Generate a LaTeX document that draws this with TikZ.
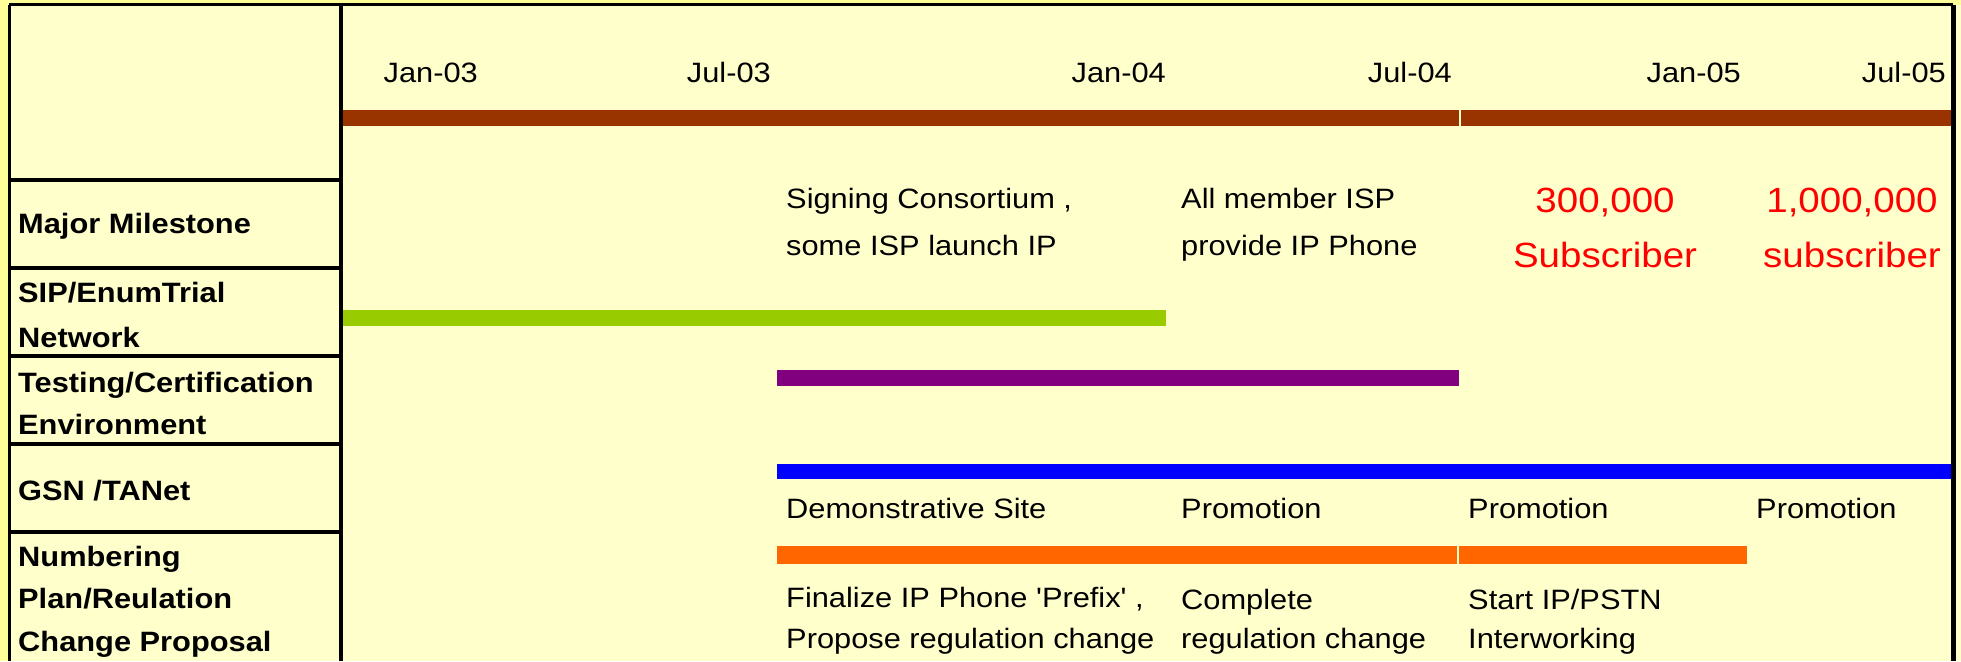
\documentclass[tikz,border=0pt]{standalone}
\usepackage{fontspec}
\setmainfont{Liberation Sans}[FakeStretch=1.1]
\newfontfamily\arial{Liberation Sans}[FakeStretch=1.1]
\definecolor{innerbg}{HTML}{FFFFCC}
\definecolor{outerbg}{HTML}{FFFF99}
\definecolor{cbrown}{HTML}{993300}
\definecolor{cgreen}{HTML}{99CC00}
\definecolor{cpurple}{HTML}{800080}
\definecolor{cblue}{HTML}{0000FF}
\definecolor{corange}{HTML}{FF6600}
\begin{document}
\begin{tikzpicture}[x=1pt,y=-1pt,
  lbl/.style={anchor=base west, inner sep=0pt, font=\arial\bfseries\fontsize{28}{34}\selectfont},
  txt/.style={anchor=base west, inner sep=0pt, font=\arial\fontsize{28}{34}\selectfont},
  datelbl/.style={anchor=base east, inner sep=0pt, font=\arial\fontsize{28}{34}\selectfont},
  bigred/.style={anchor=base, inner sep=0pt, text=red, font=\arial\fontsize{35}{42}\selectfont}]
\useasboundingbox (0,0) rectangle (1961,661);
\fill[outerbg] (0,0) rectangle (1961,661);
\fill[innerbg] (9,5) rectangle (1961,661);
% bars
\fill[cbrown] (341,110) rectangle (1459,126);
\fill[cbrown] (1461,110) rectangle (1953,126);
\fill[cgreen] (341,310) rectangle (1166,326);
\fill[cpurple] (777,370) rectangle (1459,386);
\fill[cblue] (777,464) rectangle (1953,479);
\fill[corange] (777,546) rectangle (1457,564);
\fill[corange] (1459,546) rectangle (1747,564);
% borders
\draw[line width=3pt] (9,5) -- (1953,5);
\draw[line width=3pt] (9,5) -- (9,661);
\draw[line width=5pt] (1953,5) -- (1953,661);
\draw[line width=4.5pt] (341,5) -- (341,661);
\foreach \yy in {180,268,356,444,532} \draw[line width=4pt] (9,\yy) -- (341,\yy);
% dates
\node[datelbl] (d1) at (478,82) {Jan-03};
\node[datelbl] (d2) at (771,82) {Jul-03};
\node[datelbl] (d3) at (1166,82) {Jan-04};
\node[datelbl] (d4) at (1452,82) {Jul-04};
\node[datelbl] (d5) at (1741,82) {Jan-05};
\node[datelbl] (d6) at (1946,82) {Jul-05};
% row labels
\node[lbl] (l1) at (18,233) {Major Milestone};
\node[lbl] (l2a) at (18,302) {SIP/EnumTrial};
\node[lbl] (l2b) at (18,347) {Network};
\node[lbl] (l3a) at (18,392) {Testing/Certification};
\node[lbl] (l3b) at (18,434) {Environment};
\node[lbl] (l4) at (18,500) {GSN /TANet};
\node[lbl] (l5a) at (18,566) {Numbering};
\node[lbl] (l5b) at (18,608) {Plan/Reulation};
\node[lbl] (l5c) at (18,651) {Change Proposal};
% milestones
\node[txt] (m1a) at (786,208) {Signing Consortium ,};
\node[txt] (m1b) at (786,255) {some ISP launch IP};
\node[txt] (m2a) at (1181,208) {All member ISP};
\node[txt] (m2b) at (1181,255) {provide IP Phone};
\node[bigred] (m3a) at (1605,212) {300,000};
\node[bigred] (m3b) at (1605,267) {Subscriber};
\node[bigred] (m4a) at (1852,212) {1,000,000};
\node[bigred] (m4b) at (1852,267) {subscriber};
% GSN
\node[txt] (g1) at (786,518) {Demonstrative Site};
\node[txt] (g2) at (1181,518) {Promotion};
\node[txt] (g3) at (1468,518) {Promotion};
\node[txt] (g4) at (1756,518) {Promotion};
% numbering
\node[txt] (n1a) at (786,607) {Finalize IP Phone 'Prefix' ,};
\node[txt] (n1b) at (786,648) {Propose regulation change};
\node[txt] (n2a) at (1181,609) {Complete};
\node[txt] (n2b) at (1181,648) {regulation change};
\node[txt] (n3a) at (1468,609) {Start IP/PSTN};
\node[txt] (n3b) at (1468,648) {Interworking};
\end{tikzpicture}
\end{document}
